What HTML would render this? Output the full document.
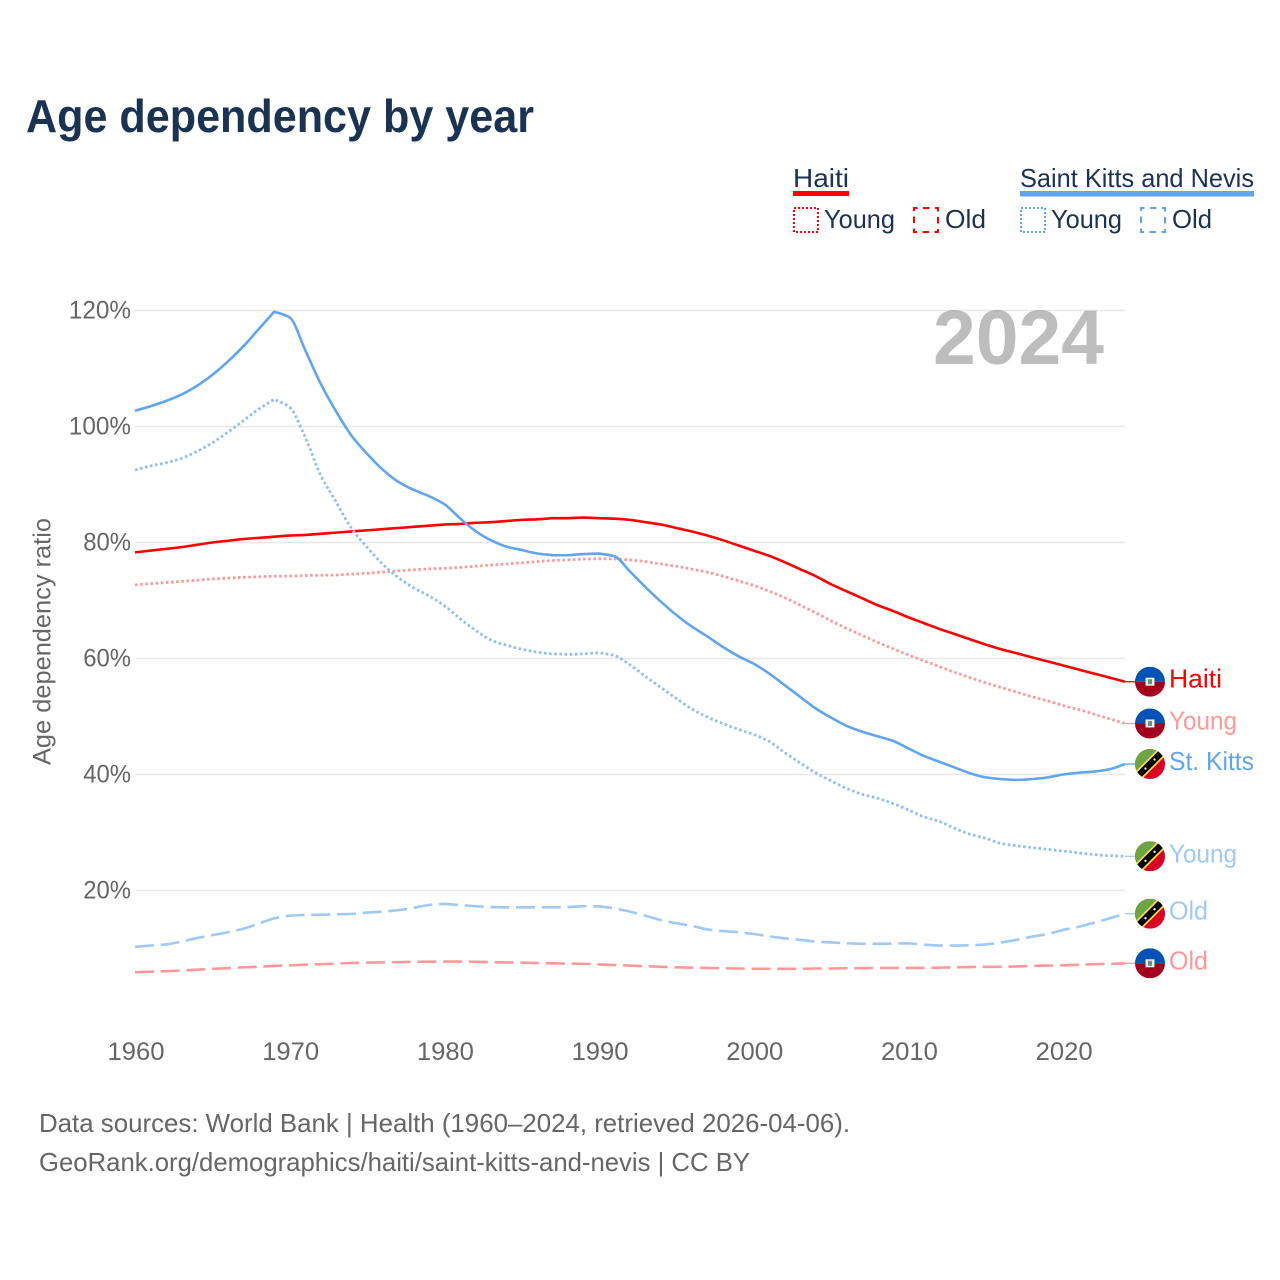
<!DOCTYPE html>
<html lang="en">
<head>
<meta charset="utf-8">
<title>Age dependency by year</title>
<style>
html,body{margin:0;padding:0;background:#fff;width:1280px;height:1280px;overflow:hidden}
svg{display:block}
text{font-family:"Liberation Sans",sans-serif}
</style>
</head>
<body>
<svg id="chart" width="1280" height="1280" viewBox="0 0 1280 1280" xmlns="http://www.w3.org/2000/svg">
  <rect x="0" y="0" width="1280" height="1280" fill="#ffffff"/>
  <text x="26" y="132" font-size="46" font-weight="700" fill="#1b3352" textLength="508" lengthAdjust="spacingAndGlyphs">Age dependency by year</text>

  <g font-size="26" fill="#1b3352">
    <text x="793" y="187" textLength="56" lengthAdjust="spacingAndGlyphs">Haiti</text>
    <rect x="793" y="191" width="56" height="5" fill="#ff0000"/>
    <rect x="794" y="208" width="24" height="24" fill="none" stroke="#ff0000" stroke-width="2" stroke-dasharray="2 2"/>
    <text x="824" y="228" textLength="71" lengthAdjust="spacingAndGlyphs">Young</text>
    <rect x="914" y="208" width="24" height="24" fill="none" stroke="#ff0000" stroke-width="2" stroke-dasharray="6.5 5.5" stroke-dashoffset="3"/>
    <text x="945" y="228" textLength="41" lengthAdjust="spacingAndGlyphs">Old</text>
    <text x="1020" y="187" textLength="234" lengthAdjust="spacingAndGlyphs">Saint Kitts and Nevis</text>
    <rect x="1020" y="191" width="234" height="5.5" fill="#60a5ee"/>
    <rect x="1021" y="208" width="24" height="24" fill="none" stroke="#60a5ee" stroke-width="2" stroke-dasharray="2 2"/>
    <text x="1051" y="228" textLength="71" lengthAdjust="spacingAndGlyphs">Young</text>
    <rect x="1141" y="208" width="24" height="24" fill="none" stroke="#60a5ee" stroke-width="2" stroke-dasharray="6.5 5.5" stroke-dashoffset="3"/>
    <text x="1172" y="228" textLength="40" lengthAdjust="spacingAndGlyphs">Old</text>
  </g>

  <text transform="translate(50.5 641.5) rotate(-90)" text-anchor="middle" font-size="25" fill="#666666" textLength="247" lengthAdjust="spacingAndGlyphs">Age dependency ratio</text>
  <g id="grid"></g>
  <g id="yticks"></g>
  <g id="xticks"></g>
  <text x="933" y="364" font-size="77" font-weight="700" fill="#000000" fill-opacity="0.26" textLength="171" lengthAdjust="spacingAndGlyphs">2024</text>
  <g id="series"></g>
  <g id="endmarks"></g>

  <g font-size="26" fill="#666666">
    <text x="39" y="1132" textLength="811" lengthAdjust="spacingAndGlyphs">Data sources: World Bank | Health (1960–2024, retrieved 2026-04-06).</text>
    <text x="39" y="1171" textLength="711" lengthAdjust="spacingAndGlyphs">GeoRank.org/demographics/haiti/saint-kitts-and-nevis | CC BY</text>
  </g>
</svg>
<script>
var years = [1960,1961,1962,1963,1964,1965,1966,1967,1968,1969,1970,1971,1972,1973,1974,1975,1976,1977,1978,1979,1980,1981,1982,1983,1984,1985,1986,1987,1988,1989,1990,1991,1992,1993,1994,1995,1996,1997,1998,1999,2000,2001,2002,2003,2004,2005,2006,2007,2008,2009,2010,2011,2012,2013,2014,2015,2016,2017,2018,2019,2020,2021,2022,2023,2024];
var xTickLabels = [1960,1970,1980,1990,2000,2010,2020];
var yTickLabels = [20,40,60,80,100,120];

var haitiTotal = [78.3,78.6,78.9,79.2,79.6,80.0,80.3,80.6,80.8,81.0,81.2,81.3,81.5,81.7,81.9,82.1,82.3,82.5,82.7,82.9,83.1,83.2,83.4,83.5,83.7,83.9,84.0,84.2,84.2,84.3,84.2,84.1,83.9,83.5,83.1,82.5,81.9,81.2,80.4,79.5,78.6,77.7,76.6,75.4,74.2,72.8,71.6,70.4,69.2,68.2,67.1,66.1,65.1,64.2,63.3,62.4,61.6,60.9,60.2,59.5,58.8,58.1,57.4,56.7,56.0];
var haitiYoung = [72.7,72.9,73.1,73.3,73.5,73.7,73.85,74.0,74.1,74.2,74.2,74.3,74.35,74.4,74.55,74.7,74.9,75.1,75.3,75.45,75.55,75.7,75.9,76.1,76.3,76.5,76.7,76.9,77.0,77.15,77.2,77.15,77.0,76.7,76.3,75.9,75.4,74.9,74.2,73.4,72.6,71.6,70.5,69.2,67.9,66.5,65.2,64.0,62.8,61.7,60.6,59.6,58.6,57.6,56.7,55.8,55.0,54.2,53.4,52.7,51.9,51.2,50.4,49.6,48.8];
var haitiOld = [5.9,6.0,6.1,6.2,6.35,6.5,6.6,6.75,6.85,7.0,7.1,7.2,7.3,7.4,7.5,7.55,7.6,7.65,7.7,7.72,7.75,7.75,7.7,7.65,7.6,7.55,7.5,7.45,7.4,7.35,7.25,7.15,7.05,6.95,6.85,6.75,6.7,6.65,6.6,6.55,6.5,6.5,6.5,6.5,6.55,6.55,6.6,6.6,6.65,6.65,6.65,6.65,6.7,6.75,6.8,6.85,6.85,6.9,7.0,7.05,7.1,7.2,7.3,7.35,7.45];
var kittsTotal = [102.7,103.5,104.4,105.5,107.0,108.9,111.2,113.8,116.8,119.8,118.8,113.2,107.4,102.6,98.4,95.3,92.6,90.5,89.1,88.0,86.6,84.2,82.0,80.4,79.3,78.7,78.1,77.8,77.8,78.0,78.1,77.6,75.0,72.3,69.8,67.5,65.5,63.8,62.0,60.4,59.1,57.4,55.4,53.4,51.4,49.8,48.4,47.4,46.6,45.8,44.5,43.2,42.2,41.2,40.2,39.5,39.2,39.05,39.2,39.5,40.0,40.3,40.5,40.9,41.8];
var kittsYoung = [92.5,93.2,93.75,94.5,95.7,97.2,99.0,101.0,103.0,104.7,103.3,98.2,91.6,87.0,82.4,79.2,76.3,74.0,72.2,70.8,69.1,66.9,64.9,63.2,62.3,61.6,61.1,60.8,60.7,60.8,61.0,60.5,58.9,56.9,55.0,53.1,51.3,49.9,48.8,47.8,46.9,45.7,43.8,42.0,40.3,38.9,37.6,36.6,35.9,35.0,33.9,32.7,31.9,30.7,29.7,29.0,28.1,27.7,27.4,27.1,26.8,26.5,26.2,26.0,25.9];
var kittsOld = [10.3,10.5,10.7,11.2,11.8,12.3,12.8,13.4,14.3,15.2,15.65,15.8,15.8,15.9,15.95,16.2,16.35,16.6,17.0,17.5,17.7,17.5,17.3,17.15,17.1,17.1,17.1,17.1,17.15,17.3,17.25,16.9,16.35,15.65,14.9,14.35,13.9,13.3,13.0,12.8,12.5,12.1,11.75,11.5,11.2,11.05,10.9,10.8,10.8,10.85,10.9,10.65,10.5,10.5,10.55,10.7,11.05,11.5,12.05,12.5,13.2,13.75,14.45,15.2,16.0];

var SVGNS = 'http://www.w3.org/2000/svg';
function xScale(year){ return 135 + (year - 1960) * (1125 - 135) / 64; }
function yScale(v){ return 890.5 - (v - 20) * 5.8; }

function make(tag, attrs, parent){
  var el = document.createElementNS(SVGNS, tag);
  for (var k in attrs) el.setAttribute(k, attrs[k]);
  if (parent) parent.appendChild(el);
  return el;
}

var gridGroup = document.getElementById('grid');
var yTickGroup = document.getElementById('yticks');
var xTickGroup = document.getElementById('xticks');
var seriesGroup = document.getElementById('series');
var endGroup = document.getElementById('endmarks');

yTickLabels.forEach(function(v){
  var y = yScale(v);
  var line = make('line', {x1:135, x2:1125, y1:y, y2:y, stroke:'#e8e8e8', 'stroke-width':1.4}, gridGroup);
  
  
  var s = String(v);
  var t = make('text', {x:131, y:y + 8, 'text-anchor':'end', 'font-size':25, fill:'#666666', textLength:14.4 * s.length + 19, lengthAdjust:'spacingAndGlyphs'}, yTickGroup);
  t.textContent = s + '%';
  
  
});

xTickLabels.forEach(function(v){
  var t = make('text', {x:xScale(v) + 1, y:1060, 'text-anchor':'middle', 'font-size':25, fill:'#666666', textLength:57, lengthAdjust:'spacingAndGlyphs'}, xTickGroup);
  t.textContent = String(v);
  
  
});

// Smooth path through every data point, keeping a sharp corner at local extremes
function pathFor(values){
  var xs = values.map(function(v, i){ return xScale(years[i]); });
  var ys = values.map(yScale);
  var n = xs.length, inSlope = [], outSlope = [], s = [];
  for (var i = 0; i < n - 1; i++) s.push((ys[i + 1] - ys[i]) / (xs[i + 1] - xs[i]));
  outSlope[0] = s[0];
  inSlope[n - 1] = s[n - 2];
  for (var j = 1; j < n - 1; j++) {
    if (s[j - 1] * s[j] <= 0) {
      inSlope[j] = s[j - 1];
      outSlope[j] = s[j];
    } else {
      inSlope[j] = outSlope[j] = 2 * s[j - 1] * s[j] / (s[j - 1] + s[j]);
    }
  }
  var d = 'M' + xs[0].toFixed(2) + ' ' + ys[0].toFixed(2);
  for (var k = 0; k < n - 1; k++) {
    var h = (xs[k + 1] - xs[k]) / 3;
    d += ' C' + (xs[k] + h).toFixed(2) + ' ' + (ys[k] + outSlope[k] * h).toFixed(2) + ' ' +
         (xs[k + 1] - h).toFixed(2) + ' ' + (ys[k + 1] - inSlope[k + 1] * h).toFixed(2) + ' ' +
         xs[k + 1].toFixed(2) + ' ' + ys[k + 1].toFixed(2);
  }
  return d;
}

function drawSeries(name, values, color, dash, width){
  var attrs = {d:pathFor(values), fill:'none', stroke:color, 'stroke-width':width, 'stroke-linejoin':'round'};
  if (dash) attrs['stroke-dasharray'] = dash;
  var line = make('path', attrs, seriesGroup);
  
  
}

var clipCount = 0;
function drawHaitiFlag(g, cy){
  var cx = 1150;
  var id = 'flagclip' + (clipCount++);
  var clip = make('clipPath', {id:id}, g);
  make('circle', {cx:cx, cy:cy, r:15}, clip);
  var f = make('g', {'clip-path':'url(#' + id + ')'}, g);
  make('rect', {x:cx - 15, y:cy - 15, width:30, height:15, fill:'#0052b4'}, f);
  make('rect', {x:cx - 15, y:cy, width:30, height:15, fill:'#a2001d'}, f);
  make('rect', {x:cx - 4.5, y:cy - 4, width:9, height:8, fill:'#f0f0f0'}, f);
  make('rect', {x:cx - 2, y:cy - 2.5, width:4, height:5, fill:'#6f8f7f'}, f);
}
function drawKittsFlag(g, cy){
  var cx = 1150;
  var id = 'flagclip' + (clipCount++);
  var clip = make('clipPath', {id:id}, g);
  make('circle', {cx:cx, cy:cy, r:15}, clip);
  var f = make('g', {'clip-path':'url(#' + id + ')'}, g);
  make('rect', {x:cx - 15, y:cy - 15, width:30, height:30, fill:'#d80027'}, f);
  make('polygon', {points:[cx - 15, cy + 15, cx - 15, cy - 15, cx + 15, cy - 15].join(' '), fill:'#6da544'}, f);
  make('line', {x1:cx - 15, y1:cy + 15, x2:cx + 15, y2:cy - 15, stroke:'#ffda44', 'stroke-width':10}, f);
  make('line', {x1:cx - 15, y1:cy + 15, x2:cx + 15, y2:cy - 15, stroke:'#000000', 'stroke-width':6.5}, f);
  make('circle', {cx:cx - 4.5, cy:cy + 4.5, r:1.2, fill:'#f0f0f0'}, f);
  make('circle', {cx:cx + 4.5, cy:cy - 4.5, r:1.2, fill:'#f0f0f0'}, f);
}

function drawEnd(name, values, color, label, labelWidth, flagFn){
  var y = yScale(values[values.length - 1]);
  var connector = make('line', {x1:1125, x2:1136, y1:y, y2:y, stroke:color, 'stroke-width':1.3}, endGroup);
  
  
  var flag = make('g', {}, endGroup);
  
  
  flagFn(flag, y);
  var t = make('text', {x:1169, y:y + 6, 'font-size':26, fill:color, textLength:labelWidth, lengthAdjust:'spacingAndGlyphs'}, endGroup);
  t.textContent = label;
  
  
}

var RED = '#ff0000', RED_LIGHT = '#ff9999', BLUE = '#60a5ee', BLUE_LIGHT = '#a0c9f5';
var DOT = '2.6 2.56', DASH = '19 6.7';

drawSeries('haiti-old', haitiOld, RED_LIGHT, DASH, 2.6);
drawSeries('haiti-young', haitiYoung, RED_LIGHT, DOT, 2.8);
drawSeries('haiti-total', haitiTotal, RED, null, 2.6);
drawSeries('saint-kitts-old', kittsOld, BLUE_LIGHT, DASH, 2.6);
drawSeries('saint-kitts-young', kittsYoung, '#90bff2', DOT, 2.8);
drawSeries('saint-kitts-total', kittsTotal, BLUE, null, 2.6);

drawEnd('haiti-total', haitiTotal, RED, 'Haiti', 53, drawHaitiFlag);
drawEnd('haiti-young', haitiYoung, RED_LIGHT, 'Young', 68, drawHaitiFlag);
drawEnd('saint-kitts-total', kittsTotal, BLUE, 'St. Kitts', 85, drawKittsFlag);
drawEnd('saint-kitts-young', kittsYoung, BLUE_LIGHT, 'Young', 68, drawKittsFlag);
drawEnd('saint-kitts-old', kittsOld, BLUE_LIGHT, 'Old', 39, drawKittsFlag);
drawEnd('haiti-old', haitiOld, RED_LIGHT, 'Old', 39, drawHaitiFlag);
</script>
</body>
</html>
